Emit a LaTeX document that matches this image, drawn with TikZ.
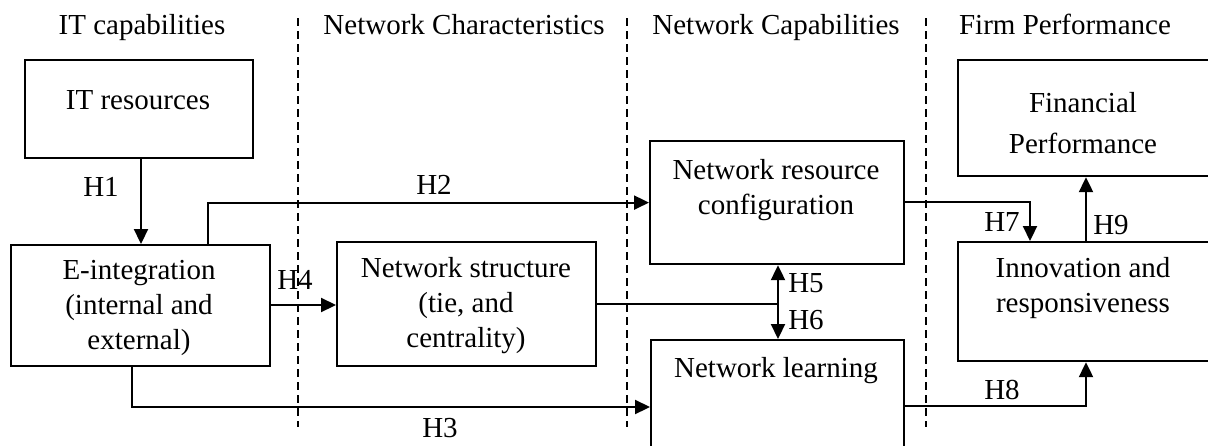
\documentclass[tikz,border=0pt]{standalone}
\usepackage{fontspec}
\setmainfont{Liberation Serif}
\usetikzlibrary{arrows.meta}
\begin{document}
\begin{tikzpicture}[x=1pt,y=-1pt,
  box/.style={draw,line width=2.2pt,rectangle,inner sep=0pt,anchor=north west},
  lbl/.style={font=\fontsize{29}{35}\selectfont,inner sep=0pt,align=center},
  conn/.style={line width=2.2pt},
  arr/.style={line width=2.2pt,-{Triangle[length=15pt,width=14pt]}},
  sepline/.style={line width=1.6pt,dash pattern=on 8pt off 5pt}]
\useasboundingbox (0,0) rectangle (1208,445);
\clip (0,0) rectangle (1208,445);
% separators
\draw[sepline] (298,18) -- (298,427);
\draw[sepline] (627,18) -- (627,427);
\draw[sepline] (926,18) -- (926,427);
% headers
\node[lbl,anchor=base] (hd1) at (142,34) {IT capabilities};
\node[lbl,anchor=base] (hd2) at (464,34) {Network Characteristics};
\node[lbl,anchor=base] (hd3) at (776,34) {Network Capabilities};
\node[lbl,anchor=base] (hd4) at (1065,34) {Firm Performance};
% boxes
\node[box,minimum width=228pt,minimum height=98pt] (itr) at (24,59) {};
\node[box,minimum width=259pt,minimum height=121pt] (eint) at (10,244) {};
\node[box,minimum width=259pt,minimum height=124pt] (ns) at (336,241) {};
\node[box,minimum width=254pt,minimum height=123pt] (nrc) at (649,140) {};
\node[box,minimum width=253pt,minimum height=140pt] (nl) at (650,339) {};
\node[box,minimum width=260pt,minimum height=116pt] (fp) at (957,59) {};
\node[box,minimum width=260pt,minimum height=119pt] (inn) at (957,241) {};
% box texts
\node[lbl,anchor=base] (titr) at (138,109) {IT resources};
\node[lbl] (teint) at (139,308) {E-integration\\(internal and\\external)};
\node[lbl] (tns) at (466,306) {Network structure\\(tie, and\\centrality)};
\node[lbl] (tnrc) at (776,190) {Network resource\\configuration};
\node[lbl,anchor=base] (tnl) at (776,377) {Network learning};
\node[lbl,font=\fontsize{29}{41}\selectfont] (tfp) at (1083,123) {Financial\\Performance};
\node[lbl] (tinn) at (1083,288) {Innovation and\\responsiveness};
% helper coordinates
\coordinate (h1x) at (141,0);
\coordinate (h2x) at (208,0);
\coordinate (h3x) at (132,0);
\coordinate (h3y) at (0,407);
\coordinate (h4y) at (0,305);
\coordinate (j) at (778,304);
\coordinate (h7) at (1030,202);
\coordinate (h8) at (1086,406);
% connectors
\draw[arr] (itr.south -| h1x) -- (eint.north -| h1x);
\draw[arr] (eint.north -| h2x) |- (nrc.west);
\draw[arr] (eint.south -| h3x) |- (nl.west |- h3y);
\draw[arr] (eint.east |- h4y) -- (ns.west |- h4y);
\draw[conn] (ns.east |- j) -- (j);
\draw[arr] (j) -- (nrc.south -| j);
\draw[arr] (j) -- (nl.north -| j);
\draw[arr] (nrc.east |- h7) -| (inn.north -| h7);
\draw[arr] (nl.east |- h8) -| (inn.south -| h8);
\draw[arr] (inn.north -| h8) -- (fp.south -| h8);
% hypothesis labels
\node[lbl] (lh1) at (101,187) {H1};
\node[lbl] (lh2) at (434,185) {H2};
\node[lbl] (lh3) at (440,428) {H3};
\node[lbl] (lh4) at (295,280) {H4};
\node[lbl] (lh5) at (806,283) {H5};
\node[lbl] (lh6) at (806,320) {H6};
\node[lbl] (lh7) at (1002,222) {H7};
\node[lbl] (lh8) at (1002,390) {H8};
\node[lbl] (lh9) at (1111,225) {H9};
\end{tikzpicture}
\end{document}
